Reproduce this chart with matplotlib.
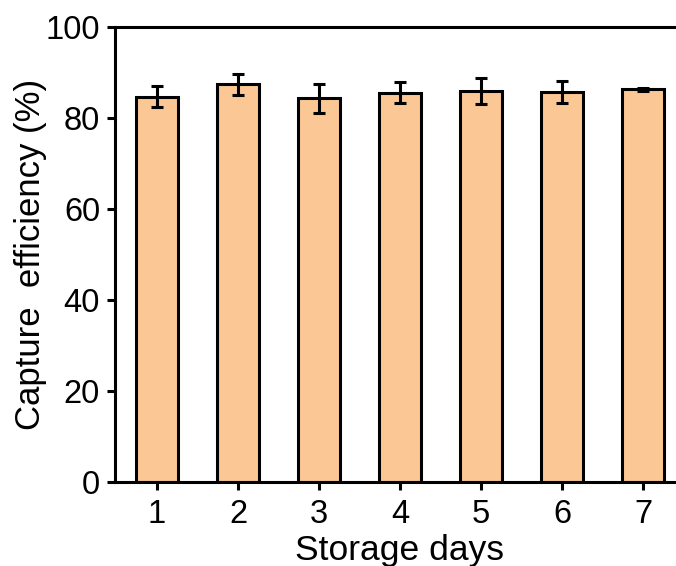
import matplotlib
matplotlib.use("Agg")
import matplotlib.pyplot as plt

plt.rcParams['font.family'] = ['Liberation Sans', 'DejaVu Sans']

days = [1, 2, 3, 4, 5, 6, 7]
efficiency = [84.7, 87.4, 84.3, 85.6, 85.9, 85.8, 86.3]
errors = [2.3, 2.3, 3.2, 2.4, 2.8, 2.4, 0.3]
ytick_vals = [0, 20, 40, 60, 80, 100]

fig = plt.figure(figsize=(6.76, 5.66), dpi=100)
ax = fig.add_axes([115/676, (566-482)/566, (683.5-115)/676, (482-27)/566])

ax.bar(days, efficiency, width=0.51, color='#FBC895', edgecolor='black', linewidth=2.2,
       yerr=errors, capsize=4.5, error_kw=dict(elinewidth=2.2, capthick=2.2, ecolor='black'),
       zorder=2)

ax.set_xlim(0.48, 7.5)
ax.set_ylim(0, 100)
ax.set_yticks(ytick_vals)
ax.set_xticks(days)
ax.tick_params(axis='both', direction='out', length=5.8, width=2.2, labelsize=23.5)
ax.tick_params(axis='x', pad=6.5)
ax.tick_params(axis='y', pad=5)
for s in ax.spines.values():
    s.set_linewidth(2.2)

ax.set_xlabel('Storage days', fontsize=25.5, labelpad=3)
ax.set_ylabel('Capture  efficiency (%)', fontsize=25, labelpad=-1)

fig.savefig('out.png', dpi=100)
